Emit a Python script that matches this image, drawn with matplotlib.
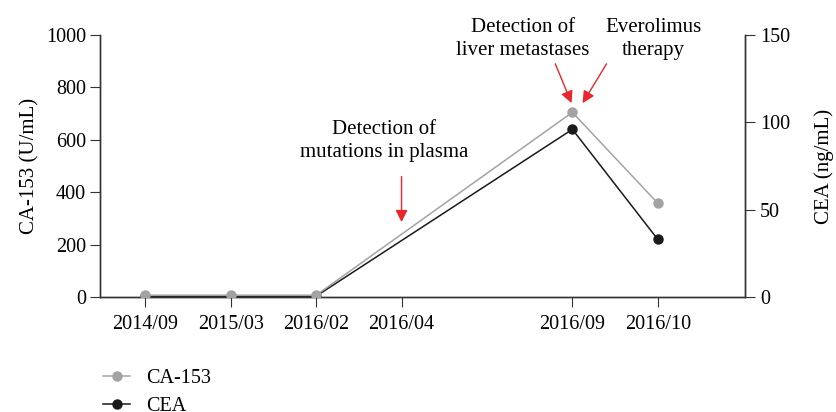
import matplotlib.pyplot as plt

plt.rcParams['font.family'] = ['Liberation Serif', 'DejaVu Serif']

dates = ['2014/09', '2015/03', '2016/02', '2016/04', '2016/09', '2016/10']
x_pos = [0, 1, 2, 3, 5, 6]

ca_x = [0, 1, 2, 5, 6]
ca153 = [7, 7, 7, 705, 358]
cea_x = [0, 1, 2, 5, 6]
cea = [0.5, 0.5, 0.5, 96, 33]

fig = plt.figure(figsize=(8.37, 4.12), dpi=100)
ax = fig.add_axes([0.1195, 0.279, 0.7705, 0.636])
ax2 = ax.twinx()
# keep CA-153 drawn above CEA
ax.set_zorder(ax2.get_zorder() + 1)
ax.patch.set_visible(False)

l1, = ax.plot(ca_x, ca153, color='#a3a3a6', lw=1.1, marker='o', ms=6.5,
              label='CA-153', zorder=3)
l2, = ax2.plot(cea_x, cea, color='#1a1a1a', lw=1.1, marker='o', ms=6.5,
               label='CEA', zorder=4)

ax.set_xlim(-0.53, 7.02)
ax.set_ylim(0, 1000)
ax2.set_ylim(0, 150)
ax.set_yticks([0, 200, 400, 600, 800, 1000])
ax2.set_yticks([0, 50, 100, 150])
ax.set_xticks(x_pos)
ax.set_xticklabels(dates)

for a in (ax, ax2):
    a.spines['top'].set_visible(False)
    for s in a.spines.values():
        s.set_color('#333333')
        s.set_linewidth(1)
ax.tick_params(axis='both', labelsize=14.5, length=7, color='#333333', pad=3)
ax.tick_params(axis='x', pad=6)
ax2.tick_params(axis='y', labelsize=14.5, length=7, color='#333333', pad=4)

ax.set_ylabel('CA-153 (U/mL)', fontsize=15, labelpad=5)
ax2.set_ylabel('CEA (ng/mL)', fontsize=15, labelpad=17)

red = '#e8262b'
arrow = dict(arrowstyle='-|>', color=red, lw=1, mutation_scale=18,
             shrinkA=0, shrinkB=0)
ax.annotate('', xy=(3, 286), xytext=(3, 460), arrowprops=arrow)
ax.text(2.8, 595, 'Detection of\nmutations in plasma', ha='center', va='center',
        fontsize=15, linespacing=1.3)
ax.annotate('', xy=(4.99, 740), xytext=(4.8, 890), arrowprops=arrow,
            annotation_clip=False)
ax.annotate('', xy=(5.12, 740), xytext=(5.4, 890), arrowprops=arrow,
            annotation_clip=False)
ax.text(4.42, 985, 'Detection of\nliver metastases', ha='center', va='center',
        fontsize=15, linespacing=1.35)
ax.text(5.95, 985, 'Everolimus\ntherapy', ha='center', va='center',
        fontsize=15, linespacing=1.35)

fig.legend(handles=[l1, l2], loc='upper left', bbox_to_anchor=(0.102, 0.149),
           frameon=False, fontsize=14.5, handlelength=1.3, handletextpad=0.8,
           labelspacing=0.45)

fig.savefig('out.png', dpi=100)
